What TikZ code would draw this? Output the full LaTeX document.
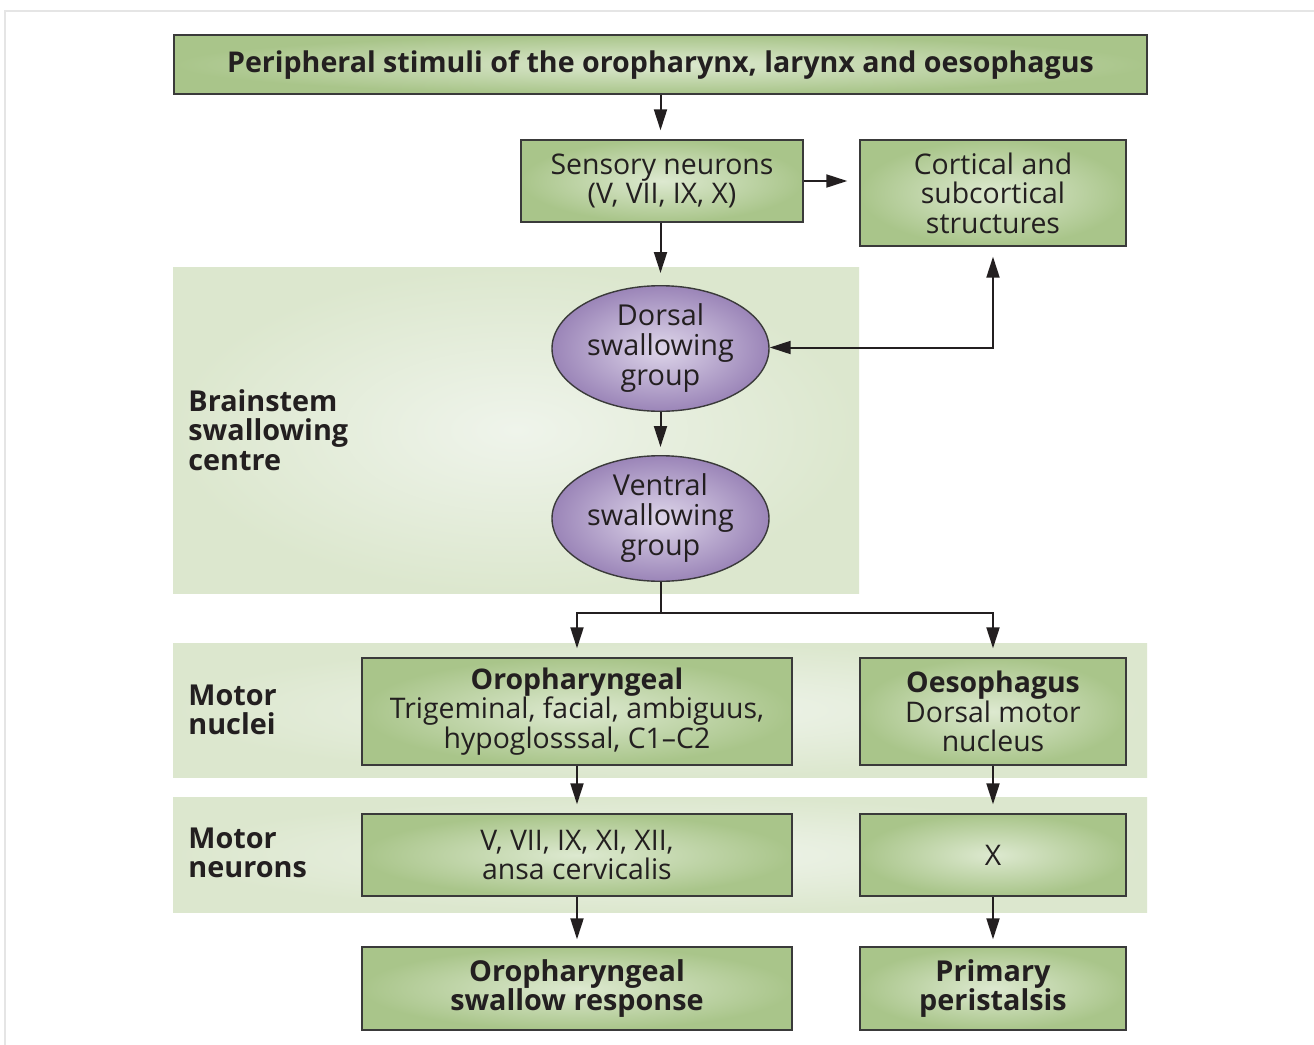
\documentclass[tikz,border=0pt]{standalone}
\usepackage{fontspec}
\setmainfont{Open Sans}
\usetikzlibrary{arrows.meta,shapes.geometric}
\definecolor{boxout}{HTML}{A9C58A}
\definecolor{boxin}{HTML}{DDE9D0}
\definecolor{bandout}{HTML}{DCE7CE}
\definecolor{bandin}{HTML}{EFF4EB}
\definecolor{ellout}{HTML}{9B85B8}
\definecolor{ellin}{HTML}{DED6EA}
\definecolor{txt}{HTML}{231F20}
\definecolor{edge}{HTML}{3A3A3A}
\begin{document}
\begin{tikzpicture}[x=0.5pt,y=-0.5pt,
  gbox/.style={draw=edge, line width=0.7pt, inner color=boxin, outer color=boxout,
    text=txt, align=center, inner sep=0pt, font=\fontsize{14.2}{14.7}\selectfont},
  boldbox/.style={gbox, font=\fontsize{14.4}{14.7}\selectfont\bfseries},
  ell/.style={ellipse, draw=edge, line width=0.7pt, inner color=ellin, outer color=ellout,
    text=txt, align=center, inner sep=0pt, minimum width=108.5pt, minimum height=59.5pt,
    font=\fontsize{14.4}{15}\selectfont},
  band/.style={inner color=bandin, outer color=bandout},
  side/.style={anchor=west, align=left, text=txt, inner sep=0pt,
    font=\fontsize{14.4}{14.6}\selectfont\bfseries},
  arr/.style={line width=1pt, draw=txt, -{Triangle[length=10.5pt,width=6.5pt]}},
  arrb/.style={line width=1pt, draw=txt, {Triangle[length=10.5pt,width=6.5pt]}-{Triangle[length=10.5pt,width=6.5pt]}}
]
\useasboundingbox (0,0) rectangle (1314,1045);
\fill[white] (0,0) rectangle (1314,1045);
\draw[line width=1pt, black!10] (5,1045) -- (5,11) -- (1314,11);

% background bands
\fill[band] (173,267) rectangle (859,593);
\fill[band] (173,643) rectangle (1147,777);
\fill[band] (173,797) rectangle (1147,912);

% side labels
\node[side] (lbrain) at (188,430) {Brainstem\\swallowing\\centre};
\node[side] (lnuc) at (188,709.5) {Motor\\nuclei};
\node[side] (lneu) at (188,852.5) {Motor\\neurons};

% boxes
\node[gbox, minimum width=486.5pt, minimum height=29.5pt, font=\fontsize{14.3}{15}\selectfont\bfseries] (top) at (660.5,64.5)
  {Peripheral stimuli of the oropharynx, larynx and oesophagus};
\node[gbox, minimum width=141pt, minimum height=41pt] (sens) at (662,181)
  {Sensory neurons\\(V, VII, IX, X)};
\node[gbox, minimum width=133pt, minimum height=53pt] (cort) at (993,193)
  {Cortical and\\subcortical\\structures};
\node[ell] (dors) at (660.5,348.5) {Dorsal\\swallowing\\group};
\node[ell] (vent) at (660.5,518.5) {Ventral\\swallowing\\group};
\node[gbox, minimum width=215pt, minimum height=53.5pt] (oro) at (577,711.5)
  {\textbf{Oropharyngeal}\\Trigeminal, facial, ambiguus,\\hypoglosssal, C1--C2};
\node[gbox, minimum width=133pt, minimum height=53.5pt] (oes) at (993,711.5)
  {\textbf{Oesophagus}\\Dorsal motor\\nucleus};
\node[gbox, minimum width=215pt, minimum height=41pt] (vvii) at (577,855)
  {V, VII, IX, XI, XII,\\ansa cervicalis};
\node[gbox, minimum width=133pt, minimum height=41pt] (xbox) at (993,855) {X};
\node[boldbox, minimum width=215pt, minimum height=41.5pt] (resp) at (577,988.5)
  {Oropharyngeal\\swallow response};
\node[boldbox, minimum width=133pt, minimum height=41.5pt] (peri) at (993,988.5)
  {Primary\\peristalsis};

% connectors
\draw[arr, shorten >=4.5pt] (top.south -| dors.north) -- (sens.north -| dors.north);
\draw[arr, shorten >=6pt] (sens.east) -- (sens.east -| cort.west);
\draw[arr, shorten >=6pt] (sens.south -| dors.north) -- (dors.north);
\draw[arrb, shorten >=5pt] ([yshift=0.5pt]dors.east) -| (cort.south);
\draw[arr, shorten >=4pt] (dors.south) -- (vent.north);
\coordinate (split) at (660.5,613);
\draw[line width=1pt, draw=txt] (vent.south) -- (split);
\draw[arr, shorten >=4.5pt] (split) -| (oro.north);
\draw[arr, shorten >=4.5pt] (split) -| (oes.north);
\draw[arr, shorten >=4.5pt] (oro.south) -- (vvii.north);
\draw[arr, shorten >=4.5pt] (oes.south) -- (xbox.north);
\draw[arr, shorten >=3.5pt] (vvii.south) -- (resp.north);
\draw[arr, shorten >=3.5pt] (xbox.south) -- (peri.north);
\end{tikzpicture}
\end{document}
